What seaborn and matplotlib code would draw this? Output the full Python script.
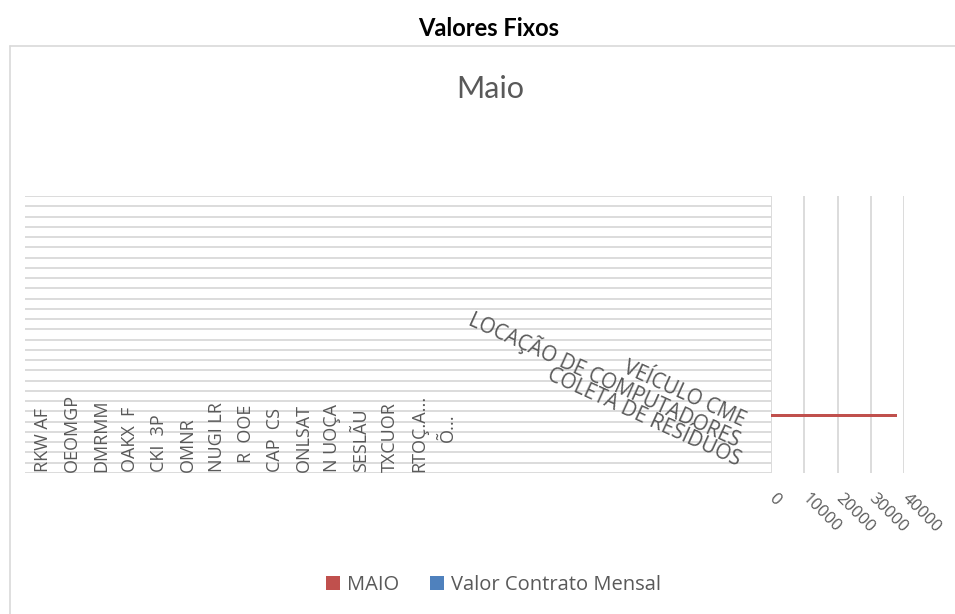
import numpy as np
import pandas as pd
import matplotlib.pyplot as plt
import seaborn as sns
from matplotlib.lines import Line2D

# dados
categorias = [
    "Contrato 01", "Contrato 02", "Contrato 03", "Contrato 04", "Contrato 05",
    "Contrato 06", "Contrato 07", "Contrato 08", "Contrato 09", "Contrato 10",
    "Contrato 11", "Contrato 12", "Contrato 13", "Contrato 14", "Contrato 15",
    "Contrato 16", "Contrato 17", "Contrato 18", "Contrato 19", "Contrato 20",
    "LOCAÇÃO DE COMPUTADORES", "VEÍCULO CME", "COLETA DE RESÍDUOS",
    "Contrato 24", "Contrato 25", "Contrato 26", "Contrato 27",
]
maio = [0, 0, 0, 0, 0, 0, 0, 0, 0, 0, 0, 0, 0, 0, 0, 0, 0, 0, 0, 0,
        0, 37800, 0, 0, 0, 0, 0]
valor_contrato = [0, 0, 0, 0, 0, 0, 0, 0, 0, 0, 0, 0, 0, 0, 0, 0, 0, 0, 0, 0,
                  0, 0, 0, 0, 0, 0, 0]
series = ["MAIO", "Valor Contrato Mensal"]
cores = ["#C0504D", "#4F81BD"]
xticks = [0, 10000, 20000, 30000, 40000]

# rótulos de categoria como aparecem (embaralhados) no gráfico original
rotulos_verticais = ["RKW AF", "OEOMGP", "DMRMM", "OAKX  F", "CKI  3P", "OMNR",
                     "NUGI LR", "R  OOE", "CAP  CS", "ONLSAT", "N UOÇA",
                     "SESLÃU", "TXCUOR", "RTOÇ.A...", "Õ..."]
rotulos_diagonais = ["LOCAÇÃO DE COMPUTADORES", "VEÍCULO CME", "COLETA DE RESÍDUOS"]

df = pd.DataFrame({
    "categoria": categorias * 2,
    "serie": [series[0]] * len(categorias) + [series[1]] * len(categorias),
    "valor": maio + valor_contrato,
})

sns.set_theme(style="white")
plt.rcParams["font.family"] = ["Lato", "DejaVu Sans"]

W, H = 955, 614
cinza = "#595959"
grade = "#D9D9D9"


def fx(px):
    return px / W


def fy(py):
    return 1 - py / H


fig = plt.figure(figsize=(W / 100, H / 100), dpi=100)

# moldura da área do gráfico
fig.add_artist(Line2D([fx(9.5), 1], [fy(45.5), fy(45.5)], color=grade, lw=1.2))
fig.add_artist(Line2D([fx(9.5), fx(9.5)], [fy(45.5), 0], color=grade, lw=1.2))

fig.text(fx(489), fy(28), "Valores Fixos", ha="center", va="center",
         fontsize=17, fontweight="bold", color="black")
fig.text(fx(490), fy(89), "Maio", ha="center", va="center",
         fontsize=22, fontweight="normal", color=cinza)

bottom, top = 473, 196
axL = fig.add_axes([fx(25), fy(bottom), fx(771) - fx(25), (bottom - top) / H])
axR = fig.add_axes([fx(771), fy(bottom), fx(904) - fx(771), (bottom - top) / H])

sns.barplot(data=df, y="categoria", x="valor", hue="serie", palette=cores,
            width=0.5, orient="h", saturation=1, errorbar=None, linewidth=0,
            ax=axR)

n = len(categorias)
axR.set_xlim(0, 40000)
axR.set_xticks(xticks)
axR.set_xticklabels([str(v) for v in xticks])
axR.set_yticks([])
axR.set_xlabel("")
axR.set_ylabel("")
axR.grid(axis="x", color=grade, lw=1.3)
axR.set_axisbelow(True)
for s in axR.spines.values():
    s.set_visible(False)
axR.tick_params(axis="x", length=0, pad=17, labelsize=12, labelcolor=cinza)
plt.setp(axR.get_xticklabels(), rotation=-45, ha="left", va="center",
         rotation_mode="anchor", family=["Open Sans", "DejaVu Sans"])

# área esquerda: só linhas de grade das categorias
axL.set_ylim(n - 0.5, -0.5)
axL.set_yticks(np.arange(-0.5, n, 1))
axL.set_yticklabels([])
axL.set_xticks([])
axL.tick_params(length=0)
axL.grid(axis="y", color=grade, lw=1.3)
for s in axL.spines.values():
    s.set_visible(False)

for i, txt in enumerate(rotulos_verticais):
    yb = 472
    if txt.startswith("R  "):
        yb = 463
    if txt.startswith("Õ"):
        yb = 442
    fig.text(fx(43.3 + 28.9 * i), fy(yb), txt, rotation=90, ha="center",
             va="bottom", fontsize=13, color=cinza,
             family=["Liberation Sans Narrow", "Open Sans", "DejaVu Sans"])

ancoras = [(739, 440), (744, 422), (739, 461)]
for txt, (x, y) in zip(rotulos_diagonais, ancoras):
    fig.text(fx(x), fy(y), txt, rotation=-24.5, rotation_mode="anchor",
             ha="right", va="center", fontsize=14.8, color=cinza,
             family=["Open Sans", "DejaVu Sans"])

sns.move_legend(axR, "center", bbox_to_anchor=(fx(493.5), fy(585)),
                bbox_transform=fig.transFigure, ncol=2, frameon=False,
                title=None, prop={"family": "Open Sans", "size": 14.5},
                labelcolor=cinza, handlelength=0.7, handleheight=0.7,
                handletextpad=0.35, columnspacing=1.55)

fig.savefig("out.png", dpi=100)
